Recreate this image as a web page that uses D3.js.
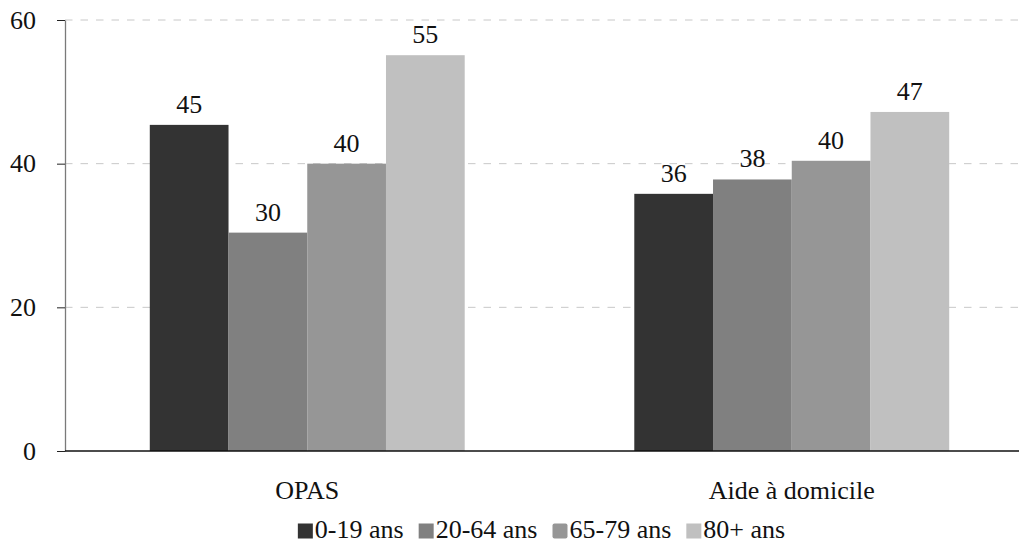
<!DOCTYPE html>
<html>
<head>
<meta charset="utf-8">
<script src="https://cdn.jsdelivr.net/npm/d3@7"></script>
<style>
  html, body { margin: 0; padding: 0; background: #fff; }
  svg { display: block; }
</style>
</head>
<body>
<svg id="chart" width="1019" height="551"></svg>
<script>
// Services and age groups
const categories = ["OPAS", "Aide à domicile"];
const ageGroups = ["0-19 ans", "20-64 ans", "65-79 ans", "80+ ans"];
// Values per age group, in the order of categories
const values019 = [45.4, 35.8];
const values2064 = [30.4, 37.8];
const values6579 = [40.0, 40.4];
const values80 = [55.1, 47.2];
const yTicks = [0, 20, 40, 60];
const groupColors = ["#333333", "#808080", "#969696", "#c0c0c0"];

const seriesValues = [values019, values2064, values6579, values80];

const FONT = "Liberation Serif";
const FS = "26px";

function draw() {
  const svg = d3.select("#chart");
  const W = 1019;
  const margin = { left: 65, top: 20, bottom: 451 };

  const x0 = d3.scaleBand().domain(categories).range([margin.left, 1034]).paddingInner(0).paddingOuter(0);
  const groupWidth = x0.bandwidth() * 0.65;
  const x1 = d3.scaleBand().domain(ageGroups).range([0, groupWidth]).padding(0);
  const y = d3.scaleLinear().domain([0, 60]).range([margin.bottom, margin.top]);

  const styleText = sel => sel
    .attr("font-family", FONT).attr("font-size", 26)
    .style("font-family", FONT).style("font-size", FS)
    .attr("fill", "#111");

  // Dashed horizontal grid
  svg.append("g")
    .selectAll("line")
    .data(yTicks.filter(d => d > 0))
    .join("line")
    .attr("x1", margin.left).attr("x2", W)
    .attr("y1", d => y(d)).attr("y2", d => y(d))
    .attr("stroke", "#c8c8c8").attr("stroke-width", 1)
    .attr("stroke-dasharray", "7.5,8");

  // Bars
  const groups = svg.append("g")
    .selectAll("g")
    .data(categories)
    .join("g")
    .attr("transform", d => `translate(${x0(d) + (x0.bandwidth() - groupWidth) / 2},0)`);

  const cells = (c, ci) => ageGroups.map((a, ai) => ({ a, ai, v: seriesValues[ai][ci] }));

  groups.selectAll("rect")
    .data(cells)
    .join("rect")
    .attr("x", d => x1(d.a))
    .attr("width", x1.bandwidth())
    .attr("y", d => y(d.v))
    .attr("height", d => y(0) - y(d.v))
    .attr("fill", d => groupColors[d.ai]);

  // Value labels
  groups.selectAll("text")
    .data(cells)
    .join("text")
    .attr("x", d => x1(d.a) + x1.bandwidth() / 2)
    .attr("y", d => y(d.v) - 12)
    .attr("text-anchor", "middle")
    .call(styleText)
    .text(d => d3.format(".0f")(d.v));

  // Y axis
  const yAxis = svg.append("g")
    .attr("transform", `translate(${margin.left},0)`)
    .call(d3.axisLeft(y).tickValues(yTicks).tickSize(8).tickPadding(21).tickSizeOuter(0));
  yAxis.attr("font-family", FONT).attr("font-size", 26);
  yAxis.select(".domain").attr("stroke", "#7a7a7a").attr("stroke-width", 1.3);
  yAxis.selectAll(".tick line").attr("stroke", "#222");
  yAxis.selectAll(".tick text").call(styleText);

  // X axis baseline
  svg.append("line")
    .attr("x1", margin.left).attr("x2", W)
    .attr("y1", y(0)).attr("y2", y(0))
    .attr("stroke", "#111").attr("stroke-width", 1.3);

  // Category labels
  svg.append("g")
    .selectAll("text")
    .data(categories)
    .join("text")
    .attr("x", d => x0(d) + x0.bandwidth() / 2)
    .attr("y", 499)
    .attr("text-anchor", "middle")
    .call(styleText)
    .text(d => d);

  // Legend
  const items = svg.append("g").selectAll("g")
    .data(ageGroups)
    .join("g");
  items.append("rect")
    .attr("width", 15).attr("height", 15)
    .attr("y", 523.5)
    .attr("rx", (d, i) => i === 2 ? 2 : 0)
    .attr("fill", (d, i) => groupColors[i]);
  items.append("text")
    .attr("x", 17)
    .attr("y", 538)
    .call(styleText)
    .text(d => d);

  const GAP = 15;
  let cursor = 0;
  const offsets = [];
  items.each(function () {
    offsets.push(cursor);
    const tw = d3.select(this).select("text").node().getComputedTextLength();
    cursor += 17 + tw + GAP;
  });
  const totalW = cursor - GAP;
  const legendStart = 541.5 - totalW / 2;
  items.attr("transform", (d, i) => `translate(${legendStart + offsets[i]},0)`);
}

if (document.fonts && document.fonts.ready) {
  document.fonts.ready.then(draw);
} else {
  draw();
}
</script>
</body>
</html>
